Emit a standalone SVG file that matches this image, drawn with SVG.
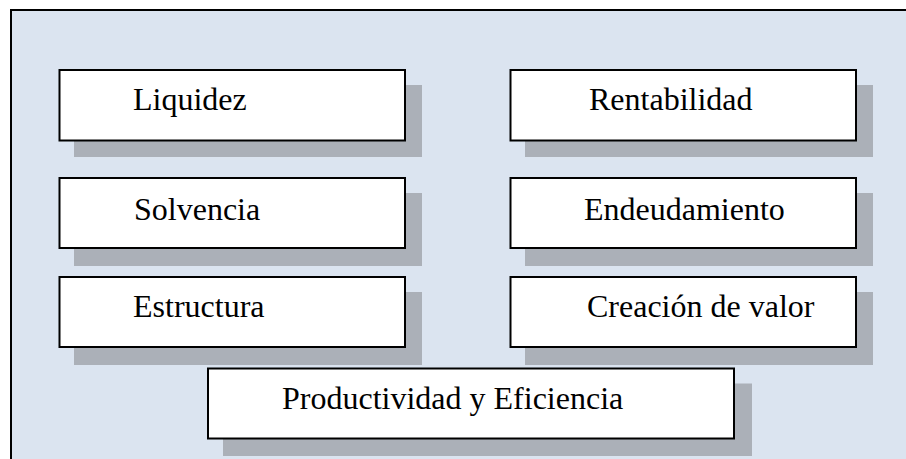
<svg xmlns="http://www.w3.org/2000/svg" width="906" height="459" viewBox="0 0 906 459">
  <style>
    .shadow { fill: #abb0b8; }
    .box { fill: #ffffff; stroke: #000000; stroke-width: 2; }
    .label { font-family: "Liberation Serif", "Times New Roman", serif; font-size: 32px; fill: #000000; }
  </style>
  <rect x="0" y="0" width="906" height="459" fill="#ffffff"/>
  <g id="frame">
    <rect x="11" y="10" width="900" height="455" fill="#dbe4f0"/>
    <line x1="11" y1="10" x2="906" y2="10" stroke="#000" stroke-width="2"/>
    <line x1="11" y1="9" x2="11" y2="459" stroke="#000" stroke-width="2"/>
  </g>
  <g id="connectors"></g>
  <g id="liquidez">
    <rect class="shadow" x="74" y="85" width="348" height="72"/>
    <rect class="box" x="59.5" y="70" width="345.5" height="70.5"/>
    <text class="label" x="133" y="110">Liquidez</text>
  </g>
  <g id="rentabilidad">
    <rect class="shadow" x="525" y="85" width="348" height="72"/>
    <rect class="box" x="510.5" y="70" width="345.5" height="70.5"/>
    <text class="label" x="589" y="110">Rentabilidad</text>
  </g>
  <g id="solvencia">
    <rect class="shadow" x="74" y="193" width="348" height="73"/>
    <rect class="box" x="59.5" y="178" width="345.5" height="70"/>
    <text class="label" x="134" y="220">Solvencia</text>
  </g>
  <g id="endeudamiento">
    <rect class="shadow" x="525" y="193" width="348" height="73"/>
    <rect class="box" x="510.5" y="178" width="345.5" height="70"/>
    <text class="label" x="584" y="220">Endeudamiento</text>
  </g>
  <g id="estructura">
    <rect class="shadow" x="74" y="292" width="348" height="73"/>
    <rect class="box" x="59.5" y="277" width="345.5" height="70"/>
    <text class="label" x="133" y="317">Estructura</text>
  </g>
  <g id="creacion">
    <rect class="shadow" x="525" y="292" width="348" height="73"/>
    <rect class="box" x="510.5" y="277" width="345.5" height="70"/>
    <text class="label" x="587" y="317">Creación de valor</text>
  </g>
  <g id="productividad">
    <rect class="shadow" x="223" y="383.5" width="529" height="72.5"/>
    <rect class="box" x="208" y="368.5" width="526" height="70"/>
    <text class="label" x="282" y="408.5">Productividad y Eficiencia</text>
  </g>
</svg>
